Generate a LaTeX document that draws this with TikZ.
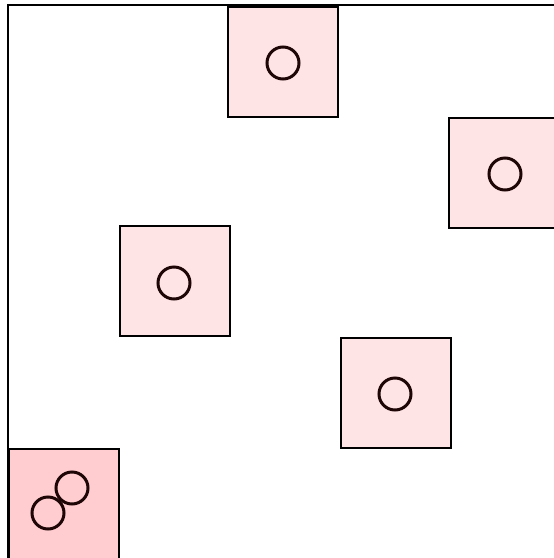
\documentclass[tikz,border=0pt]{standalone}
\usepackage{tikz,xcolor}
\definecolor{cellpink}{HTML}{FFE4E6}
\definecolor{cellred}{HTML}{FFCCD0}
\definecolor{ringdark}{HTML}{1E0606}

\begin{document}
\begin{tikzpicture}[x=1pt,y=-1pt,
      cell/.style={draw=black,line width=2pt,fill=cellpink,minimum size=110pt,inner sep=0pt},
      ring/.style={draw=ringdark,line width=3pt,circle,minimum size=32pt,inner sep=0pt}]
    \useasboundingbox (0,0) rectangle (554,558);
    \fill[white] (0,0) rectangle (554,558);
    \coordinate (fb) at (8,570); \coordinate (fc) at (8,5); \coordinate (fr) at (570,5);
    \draw[line width=2pt] (fb)--(fc)--(fr);
    \node[cell] (c1) at (282.5,62) {};
    \node[cell] (c2) at (504,173) {};
    \node[cell] (c3) at (174.5,281) {};
    \node[cell] (c4) at (395.5,393) {};
    \node[cell,fill=cellred] (c5) at (63.5,504) {};
    \node[ring] (r1) at (283,63) {};
    \node[ring] (r2) at (505,174) {};
    \node[ring] (r3) at (174,283) {};
    \node[ring] (r4) at (395,394) {};
    \node[ring] (r5a) at (48,513) {};
    \node[ring] (r5b) at (72,488) {};
  \end{tikzpicture}
\end{document}
